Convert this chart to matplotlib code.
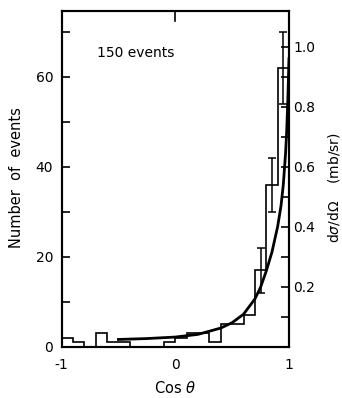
# Angular distribution: histogram of events vs cos(theta), with the fitted
# differential cross section drawn on the right-hand axis.
import numpy as np
import matplotlib.pyplot as plt

# histogram, 20 bins of width 0.1 from -1 to 1
bin_edges = np.round(np.arange(-1.0, 1.01, 0.1), 2)
counts = [2, 1, 0, 3, 1, 1, 0, 0, 0, 1, 2, 3, 3, 1, 5, 5, 7, 17, 36, 62]

# statistical error bars on the three forward bins
err_x = [0.75, 0.85, 0.95]
err_y = [17, 36, 62]
err_size = [5, 6, 8]

curve_cos = [-0.5, -0.25, 0.0, 0.2, 0.4, 0.5, 0.6, 0.7, 0.75, 0.8, 0.85,
             0.9, 0.93, 0.95, 0.97, 0.98, 0.99, 1.0]
curve_xs = [0.024, 0.027, 0.032, 0.041, 0.062, 0.080, 0.108, 0.159, 0.198,
            0.252, 0.315, 0.40, 0.47, 0.54, 0.645, 0.72, 0.825, 0.96]

left_ticks = [0, 20, 40, 60]
right_ticks = [0.2, 0.4, 0.6, 0.8, 1.0]

fig = plt.figure(figsize=(3.42, 3.98), dpi=100)
ax = fig.add_axes([0.180, 0.129, 0.665, 0.844])

ax.stairs(counts, bin_edges, color='k', lw=1.2)
ax.errorbar(err_x, err_y, yerr=err_size, fmt='none', ecolor='k',
            elinewidth=1.1, capsize=3, capthick=1.1)

ax.set_xlim(-1, 1)
ax.set_ylim(0, 74.7)
ax.set_xticks([-1, 0, 1])
ax.set_xticklabels(['-1', '0', '1'])
ax.set_yticks(left_ticks)
ax.set_yticks([10, 30, 50, 70], minor=True)
ax.tick_params(axis='y', which='both', direction='in', length=6, width=1.2,
               labelsize=10, pad=6)
ax.tick_params(axis='x', which='both', length=0, labelsize=10, pad=8)
for s in ax.spines.values():
    s.set_linewidth(1.5)

# small tick hanging from the top spine at cos = 0
ax.plot([0, 0], [74.7, 72.5], color='k', lw=1.2, clip_on=False)

ax2 = ax.twinx()
ax2.plot(curve_cos, curve_xs, color='k', lw=2.0)
ax2.set_ylim(0, 1.12)
ax2.set_yticks(right_ticks)
ax2.set_yticklabels(['0.2', '0.4', '0.6', '0.8', '1.0'])
ax2.set_yticks([0.1, 0.3, 0.5, 0.7, 0.9], minor=True)
ax2.tick_params(axis='y', which='both', direction='in', length=6, width=1.2,
                labelsize=10, pad=3)
for s in ax2.spines.values():
    s.set_linewidth(1.5)

ax.text(-0.69, 65.3, '150 events', fontsize=10, va='center', ha='left')

# axis titles placed by hand so they stay inside the small canvas
fig.text(0.047, 0.553, 'Number  of  events', fontsize=10.5, rotation=90,
         ha='center', va='center')
fig.text(0.512, 0.004, r'Cos $\theta$', fontsize=10.5, ha='center',
         va='bottom')
fig.text(0.978, 0.528, r'd$\sigma$/d$\Omega$    (mb/sr)', fontsize=10,
         rotation=90, ha='center', va='center')

fig.savefig('out.png', dpi=100)
